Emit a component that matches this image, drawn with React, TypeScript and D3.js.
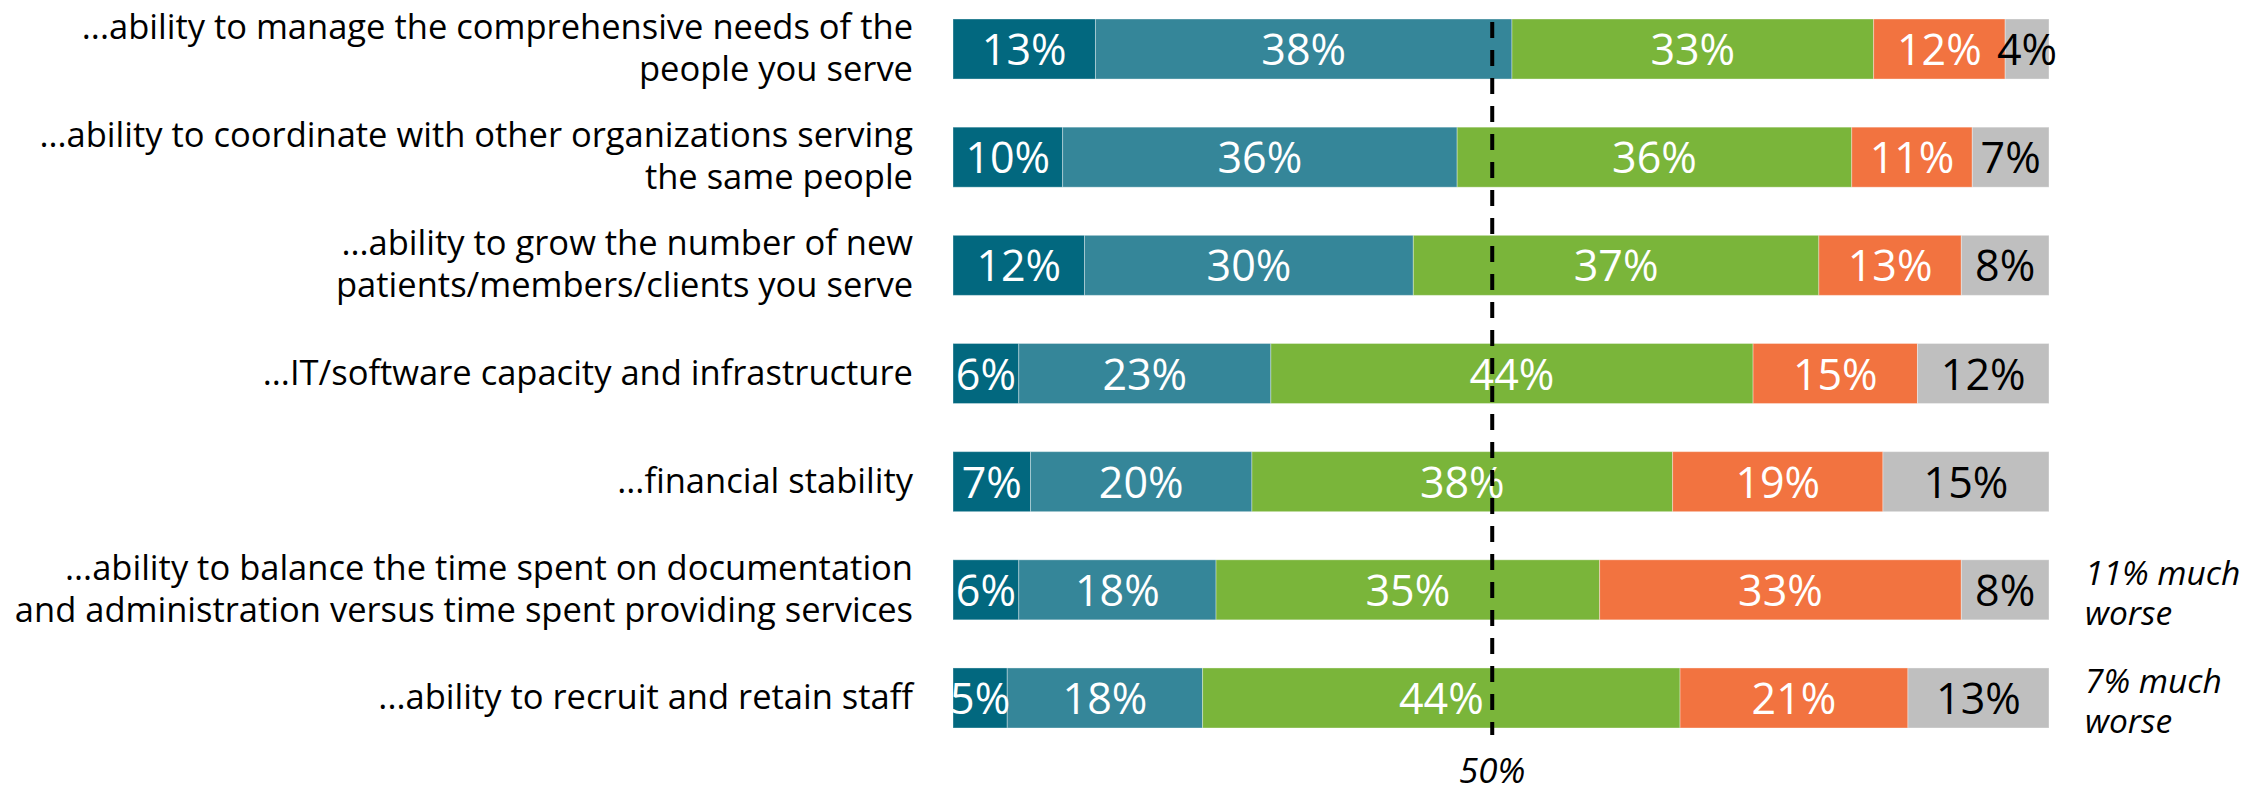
import React from "react";
import * as d3 from "d3";

const WIDTH = 2267;
const HEIGHT = 793;

const categories = [
  "...ability to manage the comprehensive needs of the\npeople you serve",
  "...ability to coordinate with other organizations serving\nthe same people",
  "...ability to grow the number of new\npatients/members/clients you serve",
  "...IT/software capacity and infrastructure",
  "...financial stability",
  "...ability to balance the time spent on documentation\nand administration versus time spent providing services",
  "...ability to recruit and retain staff",
];

const seriesKeys = ["Much better", "Somewhat better", "About the same", "Somewhat worse", "Not applicable"];
const seriesColors = ["#02687F", "#358699", "#7AB53A", "#F27340", "#BFBFBF"];
const seriesTextColors = ["#ffffff", "#ffffff", "#ffffff", "#ffffff", "#000000"];

const muchBetter = [13, 10, 12, 6, 7, 6, 5];
const somewhatBetter = [38, 36, 30, 23, 20, 18, 18];
const aboutSame = [33, 36, 37, 44, 38, 35, 44];
const somewhatWorse = [12, 11, 13, 15, 19, 33, 21];
const notApplicable = [4, 7, 8, 12, 15, 8, 13];

const annotations = [
  { row: 5, text: ["11% much", "worse"] },
  { row: 6, text: ["7% much", "worse"] },
];

const referenceValue = 49.2;
const referenceLabel = "50%";

const FONT = "'Open Sans', 'Noto Sans', sans-serif";

export default function App() {
  const series = [muchBetter, somewhatBetter, aboutSame, somewhatWorse, notApplicable];

  const x = d3.scaleLinear().domain([0, 100]).range([953, 2049]);
  const y = d3
    .scaleBand<number>()
    .domain(d3.range(categories.length))
    .range([19, 728])
    .paddingInner(0.445)
    .paddingOuter(0);
  const bh = y.bandwidth();

  const rows = categories.map((cat, i) => {
    const vals = series.map((s) => s[i]);
    const total = d3.sum(vals);
    const norm = vals.map((v) => (v / total) * 100);
    const ends = d3.cumsum(norm);
    const segs = vals.map((v, k) => ({
      value: v,
      x0: k === 0 ? 0 : ends[k - 1],
      x1: ends[k],
      k,
      key: seriesKeys[k],
    }));
    return { cat, i, segs };
  });

  const refX = x(referenceValue);

  return (
    <svg
      width={WIDTH}
      height={HEIGHT}
      style={{ position: "absolute", left: 0, top: 0, background: "#fff" }}
    >
      {rows.map((r) => {
        const cy = (y(r.i) as number) + bh / 2;
        const lines = r.cat.split("\n");
        const lineGap = 42;
        const firstBaseline = cy + 11 - ((lines.length - 1) * lineGap) / 2;
        return (
          <g key={r.i}>
            <text textAnchor="end" fontFamily={FONT} fontSize={34.5} fill="#000">
              {lines.map((ln, li) => (
                <tspan key={li} x={913} y={firstBaseline + li * lineGap}>
                  {ln}
                </tspan>
              ))}
            </text>
            {r.segs.map((s) => (
              <rect
                key={s.k}
                x={x(s.x0)}
                y={y(r.i)}
                width={x(s.x1) - x(s.x0)}
                height={bh}
                fill={seriesColors[s.k]}
                stroke="#ffffff"
                strokeOpacity={0.35}
                strokeWidth={1}
              />
            ))}
            {r.segs.map((s) => (
              <text
                key={"t" + s.k}
                x={(x(s.x0) + x(s.x1)) / 2}
                y={cy + 16}
                textAnchor="middle"
                fontFamily={FONT}
                fontSize={43}
                fill={seriesTextColors[s.k]}
              >
                {s.value}%
              </text>
            ))}
          </g>
        );
      })}

      <line
        x1={refX}
        x2={refX}
        y1={22}
        y2={735}
        stroke="#000"
        strokeWidth={4}
        strokeDasharray="16,12"
      />
      <text
        x={refX}
        y={783}
        textAnchor="middle"
        fontFamily={FONT}
        fontStyle="italic"
        fontSize={35}
        fill="#000"
      >
        {referenceLabel}
      </text>

      {annotations.map((a, ai) => {
        const cy = (y(a.row) as number) + bh / 2;
        return (
          <text key={ai} fontFamily={FONT} fontStyle="italic" fontSize={33.5} fill="#000">
            {a.text.map((t, ti) => (
              <tspan key={ti} x={2085} y={cy - 5 + ti * 40}>
                {t}
              </tspan>
            ))}
          </text>
        );
      })}
    </svg>
  );
}
